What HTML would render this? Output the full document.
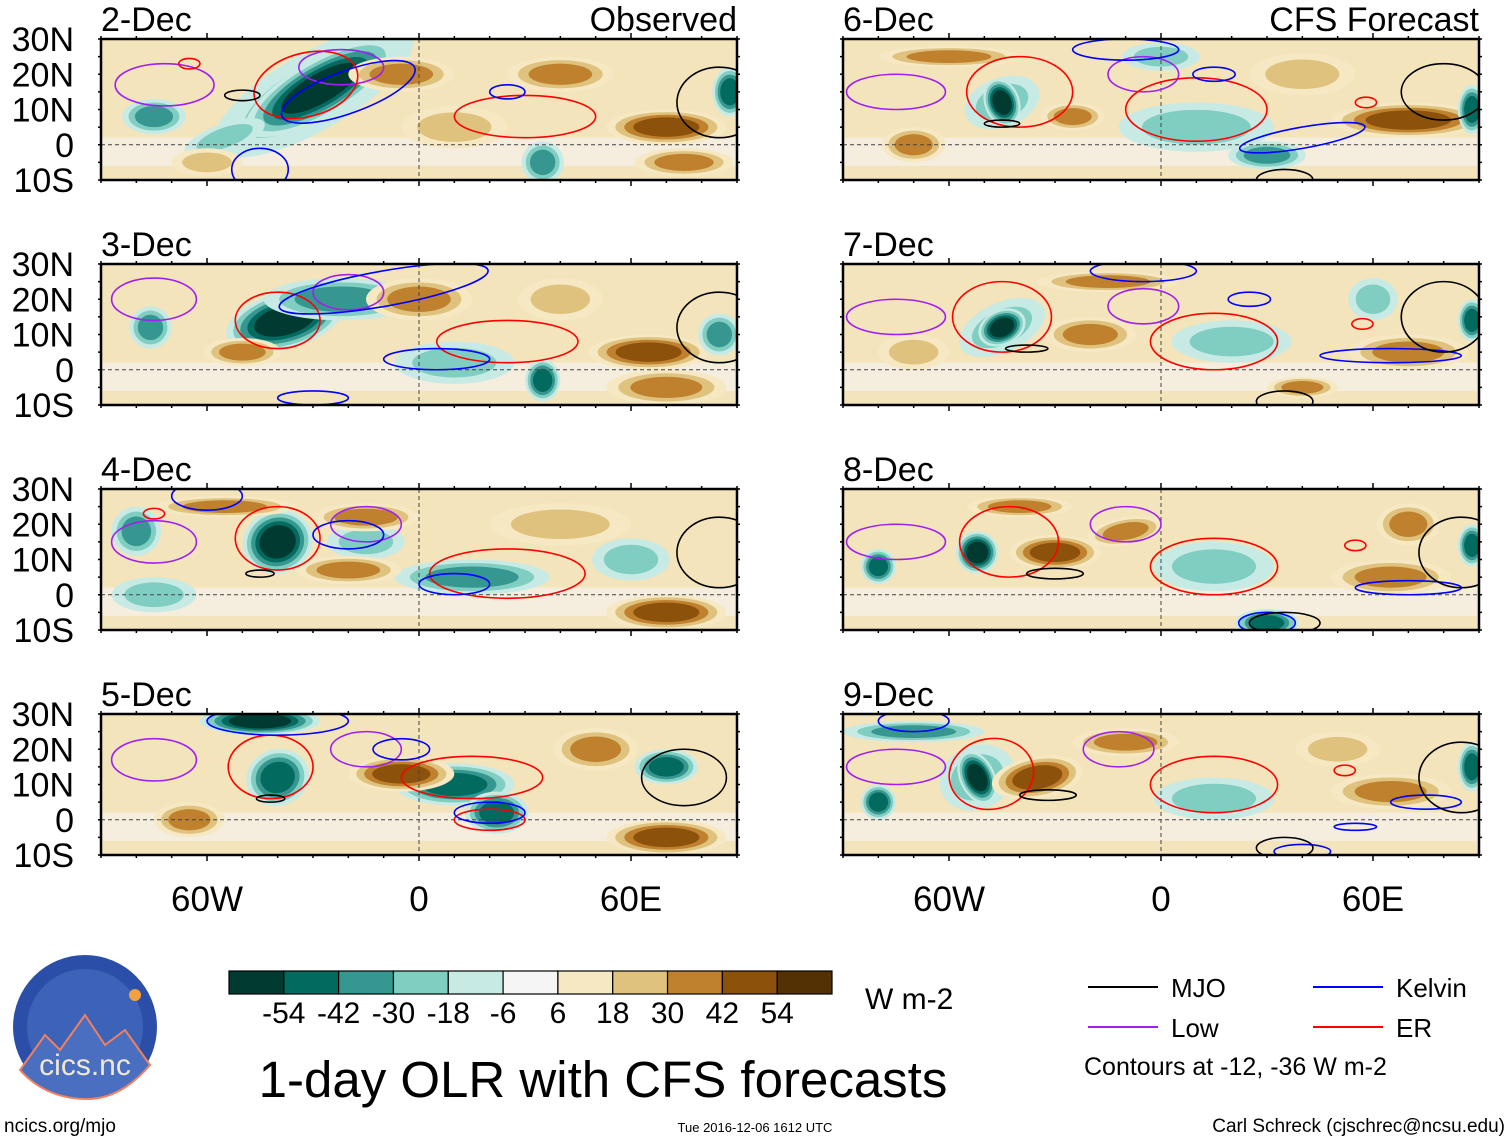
<!DOCTYPE html>
<html><head><meta charset="utf-8"><style>
body{margin:0;background:#fff;width:1510px;height:1142px;overflow:hidden;font-family:"Liberation Sans",sans-serif}
svg{display:block}
</style></head><body>
<svg id="s" width="1510" height="1142" xmlns="http://www.w3.org/2000/svg" font-family="Liberation Sans, sans-serif"></svg>
<script>
const panelLabels=["2-Dec","3-Dec","4-Dec","5-Dec","6-Dec","7-Dec","8-Dec","9-Dec"];
const levelEdges=[-54,-42,-30,-18,-6,6,18,30,42,54];
const levelColors=["#013a30","#036a60","#35978f","#80cdc1","#c7eae5","#f5f5f5","#f6e8c3","#dfc27d","#bf812d","#8c510a","#543005"];
const lonTicks=[-60,0,60];
const lonTickLabels=["60W","0","60E"];
const latTicks=[30,20,10,0,-10];
const latTickLabels=["30N","20N","10N","0","10S"];
// blobs: [lon, lat, rxDeg, ryDeg, rotation, value W m-2]
const blobs=[
[[-30,15,32,11,-30,-30],[-28,16,24,8,-30,-60],[-75,8,9,5,0,-42],[-55,2,12,4,-20,-20],[20,-5,15,4,0,-6],[10,5,15,6,0,20],[70,5,17,5,0,45],[75,-5,14,4,0,40],[40,20,15,5,0,30],[-5,20,15,5,0,30],[35,-5,6,6,0,-40],[88,15,5,7,0,-54],[-60,-5,10,4,0,25]],
[[-38,14,17,8,-15,-60],[-22,20,22,6,0,-40],[-76,12,6,6,0,-40],[10,2,17,6,0,-30],[35,-3,5,6,0,-54],[65,5,17,5,0,45],[70,-5,17,5,0,40],[0,20,15,6,0,30],[40,20,12,6,0,25],[-50,5,11,4,0,30],[85,10,6,6,0,-40]],
[[-40,15,10,9,-20,-60],[15,5,22,5,0,-42],[-80,18,7,7,0,-40],[-15,15,11,5,0,-30],[70,-5,17,5,0,50],[-15,22,15,4,0,35],[-55,25,20,3,0,30],[60,10,11,6,0,-30],[-20,7,15,4,0,40],[40,20,20,6,0,20],[-75,0,12,5,0,-25]],
[[-40,12,9,8,-20,-45],[-45,28,17,4,0,-60],[10,10,17,6,0,-45],[22,2,9,6,0,-45],[70,-5,17,5,0,50],[70,15,9,5,0,-45],[-5,13,15,5,0,45],[50,20,12,6,0,30],[-65,0,10,5,0,30]],
[[-45,12,11,7,-20,-30],[-45,12,5,7,-20,-60],[-25,8,9,4,0,35],[10,5,22,7,0,-22],[30,-3,11,4,0,-42],[70,7,22,5,0,45],[-60,25,20,3,0,30],[0,25,11,4,0,-30],[88,10,4,7,0,-54],[-70,0,9,5,0,30],[40,20,15,6,0,25]],
[[-45,12,13,7,-25,-30],[-45,12,7,5,-25,-60],[-20,10,13,5,0,40],[20,8,17,6,0,-25],[60,20,7,6,0,-30],[70,5,17,5,0,40],[88,14,4,6,0,-54],[-70,5,10,5,0,20],[-15,25,20,3,0,30],[40,-5,10,3,0,30]],
[[-52,12,6,6,-25,-60],[-30,12,13,5,0,45],[-10,18,11,4,-10,40],[15,8,17,7,0,-25],[-80,8,5,5,0,-50],[30,-8,9,4,0,-50],[70,20,9,6,0,30],[65,5,17,5,0,30],[88,14,4,6,0,-54],[-40,25,15,3,0,30]],
[[-52,12,11,9,-25,-30],[-52,12,5,8,-25,-60],[-35,12,13,6,-10,45],[-80,5,5,5,0,-50],[15,6,17,6,0,-25],[-70,25,20,3,0,-40],[65,8,17,5,0,30],[88,15,4,7,0,-54],[-10,22,15,4,0,30],[50,20,12,5,0,20]]
];
// contours: [type, lon, lat, rxDeg, ryDeg, rotation]
const contours=[
[["low",-72,17,14,6,0],["low",-22,22,12,5,0],["er",-32,17,15,9,-15],["er",30,8,20,6,0],["er",-65,23,3,1.5,0],["kelvin",-20,15,20,6,-20],["kelvin",-45,-7,8,6,0],["kelvin",25,15,5,2,0],["mjo",-50,14,5,1.5,0],["mjo",85,12,12,10,0]],
[["low",-75,20,12,6,0],["low",-20,22,10,5,0],["er",-40,14,12,8,0],["er",25,8,20,6,0],["kelvin",-10,23,30,5,-10],["kelvin",5,3,15,3,0],["kelvin",-30,-8,10,2,0],["mjo",85,12,12,10,0]],
[["low",-75,15,12,6,0],["low",-15,20,10,5,0],["er",-40,16,12,9,0],["er",25,6,22,7,0],["er",-75,23,3,1.5,0],["kelvin",-60,28,10,4,0],["kelvin",10,3,10,3,0],["kelvin",-20,17,10,4,0],["mjo",85,12,12,10,0],["mjo",-45,6,4,1,0]],
[["low",-75,17,12,6,0],["low",-15,20,10,5,0],["er",-42,15,12,9,0],["er",15,12,20,6,0],["er",20,0,10,3,0],["kelvin",-40,28,20,4,0],["kelvin",20,2,10,3,0],["kelvin",-5,20,8,3,0],["mjo",75,12,12,8,0],["mjo",-42,6,4,1,0]],
[["low",-75,15,14,5,0],["low",-5,20,10,5,0],["er",-40,15,15,10,0],["er",10,10,20,9,0],["er",58,12,3,1.5,0],["kelvin",-10,27,15,3,0],["kelvin",15,20,6,2,0],["kelvin",40,2,18,3,-10],["mjo",-45,6,5,1,0],["mjo",80,15,12,8,0],["mjo",35,-10,8,3,0]],
[["low",-75,15,14,5,0],["low",-5,18,10,5,0],["er",-45,15,14,10,0],["er",15,8,18,8,0],["er",57,13,3,1.5,0],["kelvin",-5,28,15,3,0],["kelvin",25,20,6,2,0],["kelvin",65,4,20,2,0],["mjo",-38,6,6,1,0],["mjo",80,15,12,10,0],["mjo",35,-9,8,3,0]],
[["low",-75,15,14,5,0],["low",-10,20,10,5,0],["er",-43,15,14,10,0],["er",15,8,18,8,0],["er",55,14,3,1.5,0],["kelvin",70,2,15,2,0],["kelvin",30,-8,8,3,0],["mjo",-30,6,8,1.5,0],["mjo",85,12,12,10,0],["mjo",35,-8,10,3,0]],
[["low",-75,15,14,5,0],["low",-12,20,10,5,0],["er",-48,13,12,10,-10],["er",15,10,18,8,0],["er",52,14,3,1.5,0],["kelvin",-70,28,10,3,0],["kelvin",55,-2,6,1,0],["kelvin",75,5,10,2,0],["kelvin",40,-9,8,2,0],["mjo",-32,7,8,1.5,0],["mjo",85,12,12,10,0],["mjo",35,-8,8,3,0]]
];
const contourColors={mjo:"#000",kelvin:"#0000ff",low:"#a020f0",er:"#ff0000"};

const NS="http://www.w3.org/2000/svg";
const svg=document.getElementById("s");
function el(tag,attrs,parent){const e=document.createElementNS(NS,tag);for(const k in attrs)e.setAttribute(k,attrs[k]);(parent||svg).appendChild(e);return e;}
function levelIndex(v){let i=0;while(i<levelEdges.length&&v>=levelEdges[i])i++;return i;}
const PW=636,PH=141,PXS=[101,843],PYS=[39,264,489,714];
const lonMin=-90,lonMax=90,latMin=-10,latMax=30;

panelLabels.forEach((lab,p)=>{
  const px=PXS[Math.floor(p/4)],py=PYS[p%4];
  const xS=lon=>px+(lon-lonMin)/(lonMax-lonMin)*PW;
  const yS=lat=>py+(latMax-lat)/(latMax-latMin)*PH;
  const kx=PW/(lonMax-lonMin),ky=PH/(latMax-latMin);
  const g=el("g",{});
  
  
  const cid="clip"+p;
  const cp=el("clipPath",{id:cid},g);el("rect",{x:px,y:py,width:PW,height:PH},cp);
  const inner=el("g",{"clip-path":"url(#"+cid+")"},g);
  el("rect",{x:px,y:py,width:PW,height:PH,fill:"#f4e4bc"},inner);
  el("rect",{x:px,y:yS(2),width:PW,height:ky*8,fill:"#f5f5f5",opacity:0.6},inner);
  blobs[p].forEach(b=>{
    const [lon,lat,rx,ry,rot,v]=b;
    const li=levelIndex(v),base=5;
    const steps=[];
    if(li>base){for(let k=base+1;k<=li;k++)steps.push(k);} else {for(let k=base-1;k>=li;k--)steps.push(k);}
    steps.forEach((k,j)=>{
      const s=1-j/steps.length*0.6;
      const e=el("ellipse",{cx:xS(lon),cy:yS(lat),rx:rx*kx*s,ry:ry*ky*s,fill:levelColors[k],transform:`rotate(${rot} ${xS(lon)} ${yS(lat)})`},inner);
      
      
    });
  });
  el("line",{x1:px,x2:px+PW,y1:yS(0),y2:yS(0),stroke:"#444","stroke-dasharray":"4,3","stroke-width":1},inner);
  el("line",{x1:xS(0),x2:xS(0),y1:py,y2:py+PH,stroke:"#444","stroke-dasharray":"4,3","stroke-width":1},inner);
  contours[p].forEach(c=>{
    const [t,lon,lat,rx,ry,rot]=c;
    const e=el("ellipse",{cx:xS(lon),cy:yS(lat),rx:rx*kx,ry:ry*ky,fill:"none",stroke:contourColors[t],"stroke-width":1.6,transform:`rotate(${rot} ${xS(lon)} ${yS(lat)})`},inner);
    
    
  });
  el("rect",{x:px,y:py,width:PW,height:PH,fill:"none",stroke:"#000","stroke-width":2.5},g);
  for(let lon=-90;lon<=90;lon+=10){
    const major=lonTicks.includes(lon)?6:3;
    el("line",{x1:xS(lon),x2:xS(lon),y1:py,y2:py-major,stroke:"#000","stroke-width":1.5},g);
    el("line",{x1:xS(lon),x2:xS(lon),y1:py+PH,y2:py+PH+major,stroke:"#000","stroke-width":1.5},g);
  }
  for(let lat=-10;lat<=30;lat+=5){
    el("line",{x1:px,x2:px-3,y1:yS(lat),y2:yS(lat),stroke:"#000","stroke-width":1.5},g);
    el("line",{x1:px+PW,x2:px+PW+3,y1:yS(lat),y2:yS(lat),stroke:"#000","stroke-width":1.5},g);
  }
  const t=el("text",{x:px,y:py-8,"font-size":34},g);t.textContent=lab;
  
  
  if(p<4){
    latTicks.forEach((lat,i)=>{
      const tt=el("text",{x:px-27,y:yS(lat)+12,"font-size":34,"text-anchor":"end"},g);tt.textContent=latTickLabels[i];
      
      
    });
  }
  if(p%4===3){
    lonTicks.forEach((lon,i)=>{
      const tt=el("text",{x:xS(lon),y:911,"font-size":35,"text-anchor":"middle"},g);tt.textContent=lonTickLabels[i];
      
      
    });
  }
});
function txt(x,y,s,str,anchor,name){const t=el("text",{x:x,y:y,"font-size":s,"text-anchor":anchor||"start"});t.textContent=str;return t;}
txt(737,31,34,"Observed","end","observed-label");
txt(1479,31,34,"CFS Forecast","end","cfs-forecast-label");
const cbX=229,cbY=971,cbW=603,cbH=23,bw=cbW/levelColors.length;
levelColors.forEach((c,i)=>{
  const r=el("rect",{x:cbX+i*bw,y:cbY,width:bw,height:cbH,fill:c,stroke:"#000","stroke-width":1.2});
  
  
});
levelEdges.forEach((v,i)=>{txt(cbX+(i+1)*bw,1023,30,String(v),"middle","colorbar-tick-label");});
txt(865,1009,30,"W m-2","start","colorbar-units");
txt(603,1097,51,"1-day OLR with CFS forecasts","middle","chart-title");
const leg=[["mjo","MJO",1088,987],["kelvin","Kelvin",1313,987],["low","Low",1088,1027],["er","ER",1313,1027]];
leg.forEach(l=>{
  const ln=el("line",{x1:l[2],x2:l[2]+70,y1:l[3],y2:l[3],stroke:contourColors[l[0]],"stroke-width":2});
  
  
  txt(l[2]+83,l[3]+10,26,l[1],"start","legend-entry-"+l[0]);
});
txt(1084,1075,25,"Contours at -12, -36 W m-2","start","contour-note");
txt(4,1132,19,"ncics.org/mjo","start","source-url");
txt(755,1132,13,"Tue 2016-12-06 1612 UTC","middle","timestamp");
txt(1505,1132,19,"Carl Schreck (cjschrec@ncsu.edu)","end","author-credit");
const logo=el("g",{});


el("circle",{cx:85,cy:1027,r:72,fill:"#2b4fa8"},logo);
el("circle",{cx:85,cy:1027,r:58,fill:"#3d63b8"},logo);
el("path",{d:"M20 1070 L45 1035 L60 1050 L85 1015 L105 1045 L125 1030 L150 1065 Q120 1100 85 1099 Q45 1098 20 1070Z",fill:"#4a6fc0",stroke:"#f08060","stroke-width":2},logo);
el("circle",{cx:135,cy:995,r:6,fill:"#f5a040"},logo);
const lt=el("text",{x:85,y:1075,"font-size":30,"text-anchor":"middle",fill:"#f0e8d0"},logo);lt.textContent="cics.nc";


</script>
</body></html>
